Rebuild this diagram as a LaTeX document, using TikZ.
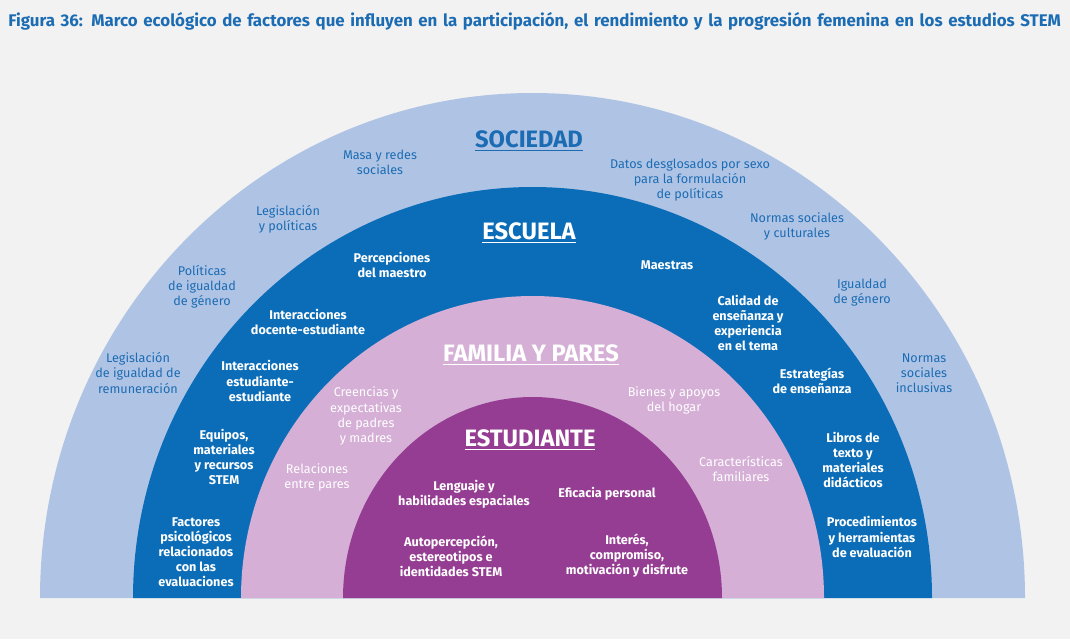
\documentclass[tikz,border=0pt]{standalone}
\usepackage{fontspec}
\setmainfont{Fira Sans}
\usetikzlibrary{positioning}
\definecolor{bg}{HTML}{F2F2F2}
\definecolor{soc}{HTML}{AFC4E5}
\definecolor{esc}{HTML}{0B6DB7}
\definecolor{fam}{HTML}{D5AFD6}
\definecolor{est}{HTML}{953D92}
\definecolor{ink}{HTML}{1C6CB4}
\tikzset{
  lab/.style={align=center, font=\fontsize{7.2}{8.6}\selectfont, inner sep=0pt},
  socl/.style={lab, text=ink},
  escl/.style={lab, text=white, font=\bfseries\fontsize{7.2}{8.6}\selectfont},
  faml/.style={lab, text=white},
  head/.style={inner sep=0pt, font=\bfseries\fontsize{13.5}{15}\selectfont},
}
\begin{document}
\begin{tikzpicture}[x=0.02cm, y=-0.02cm]
\fill[bg] (0,0) rectangle (1070,639);
\useasboundingbox (0,0) rectangle (1070,639);
\node[anchor=north west, text width=21.1cm, text=ink, inner sep=0pt,
  font=\bfseries\fontsize{9.6}{10.4}\selectfont] (title) at (8,12)
  {Figura 36: Marco ecológico de factores que influyen en la participación, el rendimiento y la progresión femenina en los estudios STEM};
% rings
\fill[soc] (40,598) arc[start angle=180, end angle=360, x radius=492.5, y radius=505] -- cycle;
\fill[esc] (133,598) arc[start angle=180, end angle=360, x radius=399.5, y radius=411] -- cycle;
\fill[fam] (241,598) arc[start angle=180, end angle=360, x radius=291.5, y radius=302] -- cycle;
\fill[est] (343,598) arc[start angle=180, end angle=360, x radius=189.5, y radius=201] -- cycle;
% headings
\node[head, text=ink] (hsoc) at (529,141) {\underline{SOCIEDAD}};
\node[head, text=white] (hesc) at (529,233) {\underline{ESCUELA}};
\node[head, text=white] (hfam) at (531,355) {\underline{FAMILIA Y PARES}};
\node[head, text=white] (hest) at (530,440) {\underline{ESTUDIANTE}};
% sociedad
\node[socl] (s1) at (380,162) {Masa y redes\\sociales};
\node[socl] (s2) at (690,180) {Datos desglosados por sexo\\para la formulación\\de políticas};
\node[socl] (s3) at (288,219) {Legislación\\y políticas};
\node[socl] (s4) at (797,226) {Normas sociales\\y culturales};
\node[socl] (s5) at (202,287) {Políticas\\de igualdad\\de género};
\node[socl] (s6) at (862,293) {Igualdad\\de género};
\node[socl] (s7) at (138,373) {Legislación\\de igualdad de\\remuneración};
\node[socl] (s8) at (924,373) {Normas\\sociales\\inclusivas};
% escuela
\node[escl] (e1) at (392,265) {Percepciones\\del maestro};
\node[escl] (e2) at (667,265) {Maestras};
\node[escl] (e3) at (308,322) {Interacciones\\docente-estudiante};
\node[escl] (e4) at (748,323) {Calidad de\\enseñanza y\\experiencia\\en el tema};
\node[escl] (e5) at (260,381) {Interacciones\\estudiante-\\estudiante};
\node[escl] (e6) at (812,381) {Estrategías\\de enseñanza};
\node[escl] (e7) at (224,457) {Equipos,\\materiales\\y recursos\\STEM};
\node[escl] (e8) at (853,460) {Libros de\\texto y\\materiales\\didácticos};
\node[escl] (e9) at (196,552) {Factores\\psicológicos\\relacionados\\con las\\evaluaciones};
\node[escl] (e10) at (872,537) {Procedimientos\\y herramientas\\de evaluación};
% familia
\node[faml] (f1) at (366,416) {Creencias y\\expectativas\\de padres\\y madres};
\node[faml] (f2) at (674,400) {Bienes y apoyos\\del hogar};
\node[faml] (f3) at (317,477) {Relaciones\\entre pares};
\node[faml] (f4) at (741,469) {Características\\familiares};
% estudiante
\node[escl] (t1) at (464,494) {Lenguaje y\\habilidades espaciales};
\node[escl] (t2) at (607,494) {Eficacia personal};
\node[escl] (t3) at (451,556) {Autopercepción,\\estereotipos e\\identidades STEM};
\node[escl] (t4) at (627,556) {Interés,\\compromiso,\\motivación y disfrute};
\end{tikzpicture}
\end{document}
